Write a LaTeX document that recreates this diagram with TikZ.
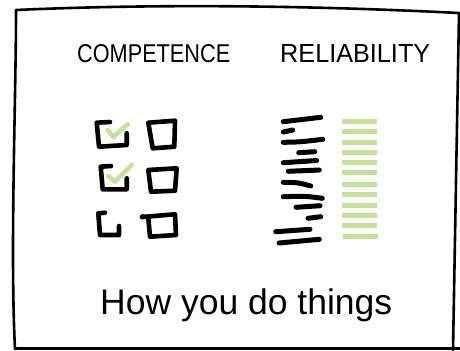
\documentclass[tikz,border=0pt]{standalone}
\usepackage{fontspec}
\setmainfont{Liberation Sans}
\definecolor{limegreen}{HTML}{C6E19A}
\begin{document}
\begin{tikzpicture}[x=1bp,y=-1bp,
  ink/.style={line width=4.6bp,line cap=round,line join=round},
  bar/.style={line width=5bp,line cap=round},
  gbar/.style={line width=5bp,draw=limegreen},
  tick/.style={line width=4.6bp,draw=limegreen,line cap=round,line join=round},
  frame/.style={line width=2.6bp,line cap=round,line join=round},
  title/.style={inner sep=0pt,anchor=south west}]
\useasboundingbox (0,0) rectangle (460,350);
\fill[white] (0,0) rectangle (460,350);
% frame
\draw[frame] (15,349) .. controls (10,250) and (16,100) .. (16,10)
  .. controls (150,4) and (300,5) .. (459,13)
  -- (453,350);
\draw[frame] (15,348.5) -- (460,348.5);
% titles
\node[title] (comp) at (77,63) {\resizebox{153bp}{18bp}{COMPETENCE}};
\node[title] (rel) at (280,63) {\resizebox{150bp}{18bp}{RELIABILITY}};
\node[inner sep=0pt,anchor=west] (how) at (100,305) {\resizebox{292bp}{!}{How you do things}};
% checkboxes
\draw[ink] (110,122) -- (96.7,122.7) -- (99,146.7) -- (126.7,145) -- (126.7,133.3);
\draw[tick] (107.7,130) -- (113.3,136.7) -- (127.7,124.3);
\draw[ink] (148.3,122.7) -- (175,120.7) -- (174.3,146.7) -- (152.7,148.3) -- cycle;
\draw[ink] (111,166) -- (100.7,166.7) -- (102.7,189.3) -- (126.7,189.3) -- (126.7,178.3);
\draw[tick] (108.3,176) -- (115,181.7) -- (131.7,165);
\draw[ink] (148.3,170) -- (176.7,168.3) -- (175,190.7) -- (151,191.7) -- cycle;
\draw[ink] (105,212.7) -- (98.3,213.3) -- (100,235) -- (119,235) -- (119,226);
\draw[ink] (142,217) -- (175,214.3) -- (176,235) -- (150,236.7) -- (148.3,218);
\draw[line width=1.6bp] (142.5,216.5) circle (1.8);
% reliability black bars
\draw[bar] (283.3,121.7) -- (320.7,117.3);
\draw[bar] (283.3,132) -- (292.7,130);
\draw[bar] (283.3,142.3) .. controls (300,142) .. (322.7,139.3);
\draw[bar] (298.7,152.7) -- (314.7,151.7);
\draw[bar] (283.3,162.7) .. controls (300,162) .. (316.7,160.5);
\draw[bar] (288.3,171.3) -- (319.3,170);
\draw[bar] (283.3,182.3) .. controls (298,182.5) .. (310.7,186);
\draw[bar] (283.3,196.7) .. controls (305,196) .. (322.3,198.3);
\draw[bar] (296,207.3) -- (320,205.7);
\draw[bar] (308,218.3) -- (320.7,216.7);
\draw[bar] (275.7,231.7) -- (310,229.3);
\draw[bar] (279,243) -- (319.3,239.3);
% reliability green bars
\foreach \y in {121,131.3,142,152.3,162.7,172.7,184,194,205.3,215.7,225.7}
  \draw[gbar] (341.7,\y) -- (376.7,\y);
\draw[gbar] (343.3,236) -- (378.3,236);
\end{tikzpicture}
\end{document}
